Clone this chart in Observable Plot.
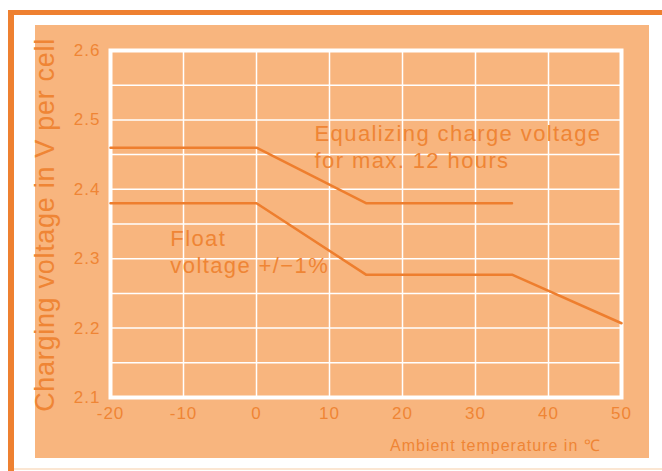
<!DOCTYPE html>
<html><head><meta charset="utf-8">
<script src="https://cdn.jsdelivr.net/npm/d3@7"></script>
<script src="https://cdn.jsdelivr.net/npm/@observablehq/plot@0.6"></script>
<style>
html,body{margin:0;padding:0;background:#fff;}
#wrap{position:relative;width:662px;height:471px;overflow:hidden;background:#fff;}
.deco{position:absolute;}
#chart{position:absolute;left:0;top:0;}
</style></head><body>
<div id="wrap">
<div class="deco" style="left:8px;top:10px;width:654px;height:5px;background:#EE8030"></div>
<div class="deco" style="left:8px;top:10px;width:6px;height:461px;background:#EE8030"></div>
<div class="deco" style="left:35px;top:25px;width:614px;height:433px;background:#F8B57E"></div>
<div class="deco" style="left:14px;top:468px;width:648px;height:2px;background:#FBE6D2"></div>
<div id="chart"></div>
</div>
<script>
const equalizeTemp = [-20, 0, 15, 35];
const equalizeVolt = [2.46, 2.46, 2.38, 2.38];
const floatTemp = [-20, 0, 15, 35, 50];
const floatVolt = [2.38, 2.38, 2.277, 2.277, 2.207];
const xTicks = [-20, -10, 0, 10, 20, 30, 40, 50];
const yTicks = [2.1, 2.2, 2.3, 2.4, 2.5, 2.6];
const xGrid = [-10, 0, 10, 20, 30, 40];
const yGrid = [2.15, 2.2, 2.25, 2.3, 2.35, 2.4, 2.45, 2.5, 2.55];
const noteText = ["Equalizing charge voltage", "for max. 12 hours", "Float", "voltage +/\u22121%"];
const noteTemp = [7.95, 7.95, -11.8, -11.8];
const noteVolt = [2.469, 2.43, 2.3176, 2.2787];
const xTitle = "Ambient temperature in \u2103";
const yTitle = "Charging voltage in V per cell";

const eqData = equalizeTemp.map((t, i) => ({t, v: equalizeVolt[i]}));
const flData = floatTemp.map((t, i) => ({t, v: floatVolt[i]}));
const notes = noteText.map((s, i) => ({s, t: noteTemp[i], v: noteVolt[i]}));

const ORANGE = "#EE7E2E";
const TEXT = "#EF8535";
const FONT = "'Liberation Sans', Arial, sans-serif";

const plot = Plot.plot({
  width: 662,
  height: 471,
  marginLeft: 110,
  marginRight: 41,
  marginTop: 50,
  marginBottom: 74,
  style: {background: "transparent", color: TEXT, fontFamily: FONT, overflow: "visible"},
  x: {domain: [-20, 50]},
  y: {domain: [2.1, 2.6]},
  marks: [
    Plot.gridY(yGrid, {stroke: "#fff", strokeOpacity: 1, strokeWidth: 1.5}),
    Plot.gridX(xGrid, {stroke: "#fff", strokeOpacity: 1, strokeWidth: 1.5}),
    Plot.frame({stroke: "#fff", strokeWidth: 4}),
    Plot.axisX(xTicks, {tickSize: 0, tickPadding: 9, fontSize: 17, label: null, fill: TEXT, tickFormat: d => String(d)}),
    Plot.axisY(yTicks, {tickSize: 0, tickPadding: 10, fontSize: 17, label: null, fill: TEXT, tickFormat: d3.format(".1f")}),
    Plot.line(eqData, {x: "t", y: "v", stroke: ORANGE, strokeWidth: 2.5}),
    Plot.line(flData, {x: "t", y: "v", stroke: ORANGE, strokeWidth: 2.5}),
    Plot.text(notes, {x: "t", y: "v", text: "s", textAnchor: "start", lineAnchor: "bottom", fontSize: 22, fill: TEXT})
  ]
});
document.getElementById("chart").appendChild(plot);
const svg = d3.select(plot);
svg.selectAll("text").style("letter-spacing", function() { return this.closest("[aria-label='text']") ? "1.4px" : "1px"; });
svg.append("text")
  .attr("transform", "translate(54,225) rotate(-90)")
  .attr("text-anchor", "middle")
  .attr("fill", TEXT)
  .style("font-size", "27px")
  .style("letter-spacing", "0.7px")
  .text(yTitle);
svg.append("text")
  .attr("x", 390).attr("y", 451)
  .attr("text-anchor", "start")
  .attr("fill", TEXT)
  .style("font-size", "16px")
  .style("letter-spacing", "1px")
  .text(xTitle);
</script>
</body></html>
